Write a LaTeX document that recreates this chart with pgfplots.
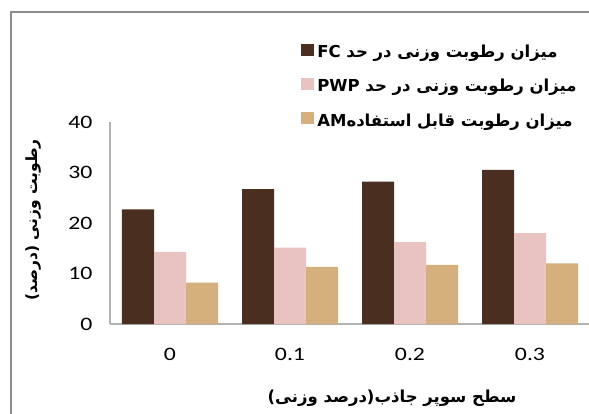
\documentclass[border=0pt]{standalone}
\usepackage{fontspec}
\setmainfont[FakeStretch=1.25]{Carlito}
\newfontfamily\arabicfont[Script=Arabic]{DejaVu Sans}
\TeXXeTstate=1
\usepackage{pgfplots}
\pgfplotsset{compat=1.18}
\definecolor{fc}{HTML}{4A2F20}
\definecolor{pwp}{HTML}{E8C3C2}
\definecolor{am}{HTML}{D5B07C}
\definecolor{frame}{HTML}{8C8C8C}
\pgfplotstableread{
x FC PWP AM
0 22.7 14.3 8.2
1 26.7 15.1 11.3
2 28.2 16.2 11.7
3 30.5 18.0 12.0
}\data
\begin{document}
\begin{tikzpicture}[x=1pt,y=1pt]
\useasboundingbox (0,0) rectangle (589,413);
\draw[frame, line width=2pt] (11,-5) -- (11,401) -- (600,401);
\begin{axis}[
  at={(110pt,89pt)}, anchor=south west, scale only axis,
  width=480pt, height=202pt,
  xmin=-0.5, xmax=3.5, ymin=0, ymax=40,
  ybar=0pt, bar width=32pt,
  axis x line=bottom, axis y line=left,
  axis line style={-, draw=gray!60, line width=1.2pt},
  xtick={0,1,2,3}, xticklabels={0,0.1,0.2,0.3},
  ytick={0,10,20,30,40},
  major tick length=0pt,
  tick label style={font=\fontsize{19}{22}\selectfont},
  /pgf/number format/assume math mode=true,
  yticklabel style={xshift=-14pt},
  xticklabel style={yshift=-21pt},
  xlabel={\arabicfont\bfseries\beginR سطح سوپر جاذب(درصد وزنی)\endR},
  xlabel style={at={(axis description cs:0.5875,-0.366)}, anchor=center, font=\fontsize{16.5}{19}\selectfont},
  ylabel={\arabicfont\bfseries\beginR رطوبت وزنی (درصد)\endR},
  ylabel style={at={(axis description cs:-0.16,0.515)}, anchor=center, font=\fontsize{15.5}{18}\selectfont},
  legend style={at={(axis description cs:0.392,1.40)}, anchor=north west, draw=none, fill=none,
     font=\arabicfont\bfseries\fontsize{16.5}{19}\selectfont, row sep=16pt,
     nodes={inner xsep=3pt}},
  legend cell align=left,
]
\addplot[fill=fc, draw=none, legend image code/.code={\fill[fc] (0pt,-4pt) rectangle (13pt,8pt);}] table[x=x,y=FC]{\data};
\addlegendentry{\beginR میزان رطوبت وزنی در حد \beginL FC\endL\endR}
\addplot[fill=pwp, draw=none, legend image code/.code={\fill[pwp] (0pt,-4pt) rectangle (13pt,8pt);}] table[x=x,y=PWP]{\data};
\addlegendentry{\beginR میزان رطوبت وزنی در حد \beginL PWP\endL\endR}
\addplot[fill=am, draw=none, legend image code/.code={\fill[am] (0pt,-4pt) rectangle (13pt,8pt);}] table[x=x,y=AM]{\data};
\addlegendentry{\beginR میزان رطوبت قابل استفاده\beginL AM\endL\endR}
\end{axis}
\end{tikzpicture}
\end{document}
